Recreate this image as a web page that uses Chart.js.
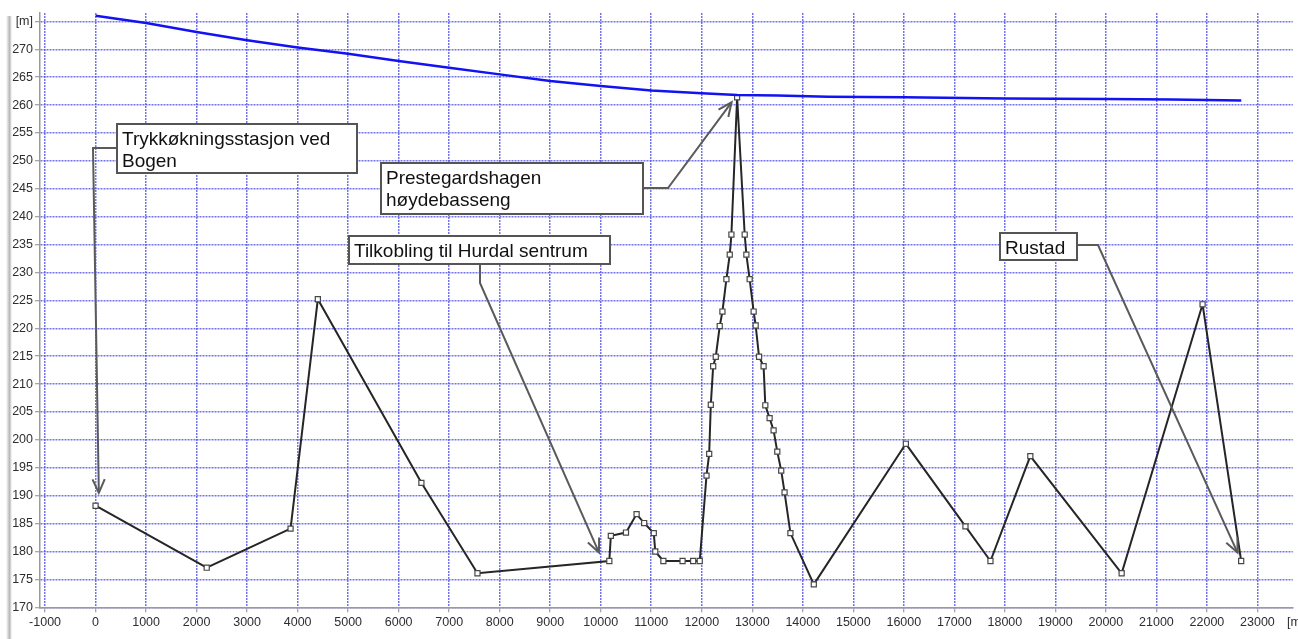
<!DOCTYPE html>
<html>
<head>
<meta charset="utf-8">
<title>Lengdeprofil</title>
<script src="https://cdn.jsdelivr.net/npm/chart.js@4.4.1/dist/chart.umd.min.js"></script>
<style>
  html, body { margin: 0; padding: 0; background: #ffffff; overflow: hidden; }
  #wrap { position: relative; width: 1298px; height: 639px; }
  #edge { position: absolute; left: 6px; top: 16px; width: 6px; height: 623px;
          background: linear-gradient(to right, rgba(0,0,0,0), rgba(110,110,110,0.5) 60%, rgba(0,0,0,0)); }
  canvas { position: absolute; left: 0; top: 0; }
</style>
</head>
<body>
<div id="wrap">
  <div id="edge"></div>
  <canvas id="profil" width="1298" height="639"></canvas>
</div>
<script>
// Terrain profile along the pipeline: chainage [m] and ground level [m]
const terrengX = [0, 2200, 3860, 4400, 6450, 7560, 10170, 10200, 10500, 10710, 10860, 11050, 11080,
  11240, 11620, 11830, 11960, 12094, 12147, 12179, 12226, 12277, 12356, 12409, 12488, 12554, 12587,
  12700, 12850, 12883, 12948, 13027, 13067, 13134, 13224, 13258, 13343, 13422, 13495, 13573, 13639,
  13755, 14218, 16040, 17220, 17715, 18504, 20312, 21914, 22678];
const terrengY = [188.2, 177.1, 184.1, 225.2, 192.3, 176.1, 178.3, 182.8, 183.4, 186.7, 185.1, 183.3, 180.0,
  178.3, 178.3, 178.3, 178.3, 193.6, 197.5, 206.3, 213.2, 214.9, 220.4, 223.0, 228.8, 233.2, 236.8,
  261.4, 236.8, 233.2, 228.8, 223.0, 220.5, 214.9, 213.2, 206.2, 203.9, 201.7, 197.9, 194.5, 190.6,
  183.3, 174.1, 199.3, 184.5, 178.3, 197.1, 176.1, 224.3, 178.3];

// Hydraulic grade line (pressure line)
const trykkX = [0, 1000, 2000, 3000, 4000, 5000, 6000, 7000, 8000, 9000, 10000, 11000, 12000,
  12700, 13500, 14500, 16000, 18000, 20000, 21300, 22680];
const trykkY = [276.0, 274.7, 273.1, 271.6, 270.3, 269.2, 267.9, 266.7, 265.5, 264.3, 263.4, 262.6, 262.1,
  261.8, 261.7, 261.5, 261.4, 261.2, 261.1, 261.0, 260.8];

// Axis ticks
const xTicks = [-1000, 0, 1000, 2000, 3000, 4000, 5000, 6000, 7000, 8000, 9000, 10000, 11000, 12000,
  13000, 14000, 15000, 16000, 17000, 18000, 19000, 20000, 21000, 22000, 23000];
const yTicks = [170, 175, 180, 185, 190, 195, 200, 205, 210, 215, 220, 225, 230, 235, 240, 245, 250,
  255, 260, 265, 270, 275];
const enhet = '[m]';

// Callout labels: text, and the chainage / level each arrow points to
const merknadTekst = [
  ['Trykkøkningsstasjon ved', 'Bogen'],
  ['Prestegardshagen', 'høydebasseng'],
  ['Tilkobling til Hurdal sentrum'],
  ['Rustad']
];
const merknadMal = [[65, 190.5], [12590, 260.5], [9966, 179.8], [22606, 179.8]];

// Callout layout (pixels): box [x, y, w, h] and leader route before the arrow
const merknadOppsett = [
  { box: [117, 124, 240, 49], route: [[117, 148], [93, 148]] },
  { box: [381, 163, 262, 51], route: [[643, 188], [668, 188]] },
  { box: [349, 236, 261, 28], route: [[480, 264], [480, 283]] },
  { box: [1000, 233, 77, 27], route: [[1077, 245], [1098, 245]] }
];

const toPts = (xs, ys) => xs.map((x, i) => ({ x: x, y: ys[i] }));

const gridBlue = 'rgba(80, 80, 232, 0.8)';
const tickFont = { family: '"Liberation Sans", Arial, sans-serif', size: 12.5 };

const callouts = {
  id: 'callouts',
  afterDatasetsDraw(chart) {
    const ctx = chart.ctx;
    const xs = chart.scales.x, ys = chart.scales.y;
    ctx.save();
    merknadOppsett.forEach((m, i) => {
      const tx = xs.getPixelForValue(merknadMal[i][0]);
      const ty = ys.getPixelForValue(merknadMal[i][1]);
      const r = m.route;
      // leader
      ctx.strokeStyle = '#5a5a5a';
      ctx.lineWidth = 2;
      ctx.setLineDash([]);
      ctx.beginPath();
      ctx.moveTo(r[0][0], r[0][1]);
      for (let k = 1; k < r.length; k++) ctx.lineTo(r[k][0], r[k][1]);
      ctx.lineTo(tx, ty);
      ctx.stroke();
      // open arrow head
      const last = r[r.length - 1];
      const ang = Math.atan2(ty - last[1], tx - last[0]);
      const L = 15, a = 0.42;
      ctx.beginPath();
      ctx.moveTo(tx - L * Math.cos(ang - a), ty - L * Math.sin(ang - a));
      ctx.lineTo(tx, ty);
      ctx.lineTo(tx - L * Math.cos(ang + a), ty - L * Math.sin(ang + a));
      ctx.stroke();
    });
    merknadOppsett.forEach((m, i) => {
      const [bx, by, bw, bh] = m.box;
      ctx.fillStyle = '#ffffff';
      ctx.fillRect(bx, by, bw, bh);
      ctx.strokeStyle = '#555555';
      ctx.lineWidth = 2;
      ctx.strokeRect(bx, by, bw, bh);
      ctx.fillStyle = '#111111';
      ctx.font = '19px "Liberation Sans", Arial, sans-serif';
      ctx.textAlign = 'left';
      ctx.textBaseline = 'alphabetic';
      merknadTekst[i].forEach((line, j) => {
        ctx.fillText(line, bx + 5, by + 21 + j * 22);
      });
    });
    // unit on the distance axis
    ctx.fillStyle = '#2e2e2e';
    ctx.font = '12.5px "Liberation Sans", Arial, sans-serif';
    ctx.textBaseline = 'middle';
    ctx.fillText(enhet, 1287, 623);
    ctx.restore();
  }
};

new Chart(document.getElementById('profil'), {
  type: 'line',
  data: {
    datasets: [
      {
        label: 'Trykklinje',
        data: toPts(trykkX, trykkY),
        borderColor: '#1212f2',
        borderWidth: 2.5,
        pointRadius: 0,
        tension: 0
      },
      {
        label: 'Terreng',
        data: toPts(terrengX, terrengY),
        borderColor: '#262626',
        borderWidth: 2,
        pointStyle: 'rect',
        pointRadius: 3.6,
        pointBorderWidth: 1.2,
        pointBorderColor: '#474747',
        pointBackgroundColor: '#ffffff',
        tension: 0
      }
    ]
  },
  options: {
    responsive: false,
    animation: false,
    layout: { padding: { top: 13, left: 0, right: 0, bottom: 0 } },
    plugins: { legend: { display: false }, tooltip: { enabled: false } },
    scales: {
      x: {
        type: 'linear',
        min: -1100,
        max: 23700,
        afterBuildTicks: (s) => { s.ticks = xTicks.map(v => ({ value: v })); },
        afterFit: (s) => { s.height = 31.7; },
        grid: {
          color: gridBlue,
          lineWidth: 1.5,
          borderDash: [1.6, 2.2],
          tickColor: '#8a8a8a',
          tickLength: 5,
          tickWidth: 1
        },
        border: { display: true, color: '#9a9a9a', width: 1.5, dash: [2, 1] },
        ticks: {
          padding: 3,
          maxRotation: 0,
          autoSkip: false,
          color: '#2e2e2e',
          font: tickFont,
          callback: (v) => String(v)
        }
      },
      y: {
        type: 'linear',
        min: 170,
        max: 276.5,
        afterBuildTicks: (s) => { s.ticks = yTicks.map(v => ({ value: v })); },
        afterFit: (s) => { s.width = 40; },
        grid: {
          color: gridBlue,
          lineWidth: 1.5,
          borderDash: [1.6, 2.2],
          tickColor: '#8a8a8a',
          tickLength: 5,
          tickWidth: 1
        },
        border: { display: true, color: '#9a9a9a', width: 1.5, dash: [2, 1] },
        ticks: {
          padding: 2,
          autoSkip: false,
          color: '#2e2e2e',
          font: tickFont,
          callback: (v) => (v === 275 ? enhet : String(v))
        }
      }
    }
  },
  plugins: [callouts]
});
</script>
</body>
</html>
